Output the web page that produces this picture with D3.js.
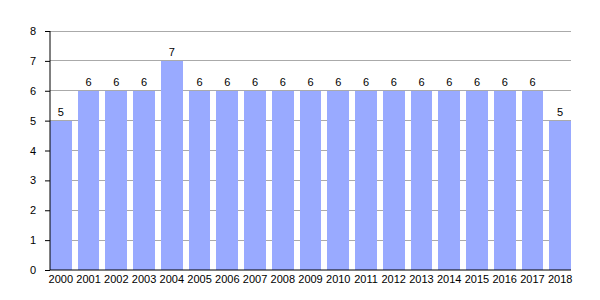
<!DOCTYPE html>
<html><head><meta charset="utf-8">
<script src="https://cdn.jsdelivr.net/npm/d3@7"></script>
<style>body{margin:0;background:#fff}svg{display:block}text{font-family:"Liberation Sans",Arial,sans-serif;font-size:11px;fill:#000}</style>
</head><body><svg id="c" width="600" height="300"></svg>
<script>
const years = ["2000","2001","2002","2003","2004","2005","2006","2007","2008","2009","2010","2011","2012","2013","2014","2015","2016","2017","2018"];
const values = [5,6,6,6,7,6,6,6,6,6,6,6,6,6,6,6,6,6,5];
const yTicks = [0,1,2,3,4,5,6,7,8];

const svg = d3.select("#c");
const L = 50, R = 571, T = 31, B = 270;
const x = d3.scaleBand().domain(years).range([L, R]).paddingInner(0.22).paddingOuter(0);
const y = d3.scaleLinear().domain([0, 8]).range([B, T]);

svg.append("g").selectAll("line").data(yTicks.filter(d=>d>0)).join("line")
  .attr("x1", L).attr("x2", R).attr("y1", d=>y(d)).attr("y2", d=>y(d))
  .attr("stroke", "#aaa").attr("stroke-width", 1).attr("shape-rendering","crispEdges");

svg.append("g").selectAll("rect").data(values).join("rect")
  .attr("x", (d,i)=>x(years[i])).attr("width", x.bandwidth())
  .attr("y", d=>y(d)).attr("height", d=>B - y(d))
  .attr("fill", "#99aaff").attr("shape-rendering","crispEdges");

svg.append("g").selectAll("text").data(values).join("text")
  .attr("x", (d,i)=>x(years[i]) + x.bandwidth()/2).attr("y", d=>y(d) - 5)
  .attr("text-anchor","middle").text(d=>d);

const ya = svg.append("g").attr("transform", `translate(${L},0)`)
  .call(d3.axisLeft(y).tickValues(yTicks).tickSize(5).tickPadding(9).tickFormat(d3.format("d")));
ya.select(".domain").attr("stroke","#000").attr("d", `M0,${T}V${B}`);
ya.selectAll("line").attr("stroke","#000");
ya.selectAll("text").style("font-size","11px").style("font-family","Liberation Sans, Arial, sans-serif");

const xa = svg.append("g").attr("transform", `translate(0,${B})`)
  .call(d3.axisBottom(x).tickSize(0).tickPadding(5));
xa.select(".domain").attr("stroke","#000").attr("d", `M${L},0H${R}`);
xa.selectAll("text").style("font-size","11px").style("font-family","Liberation Sans, Arial, sans-serif");
</script></body></html>
